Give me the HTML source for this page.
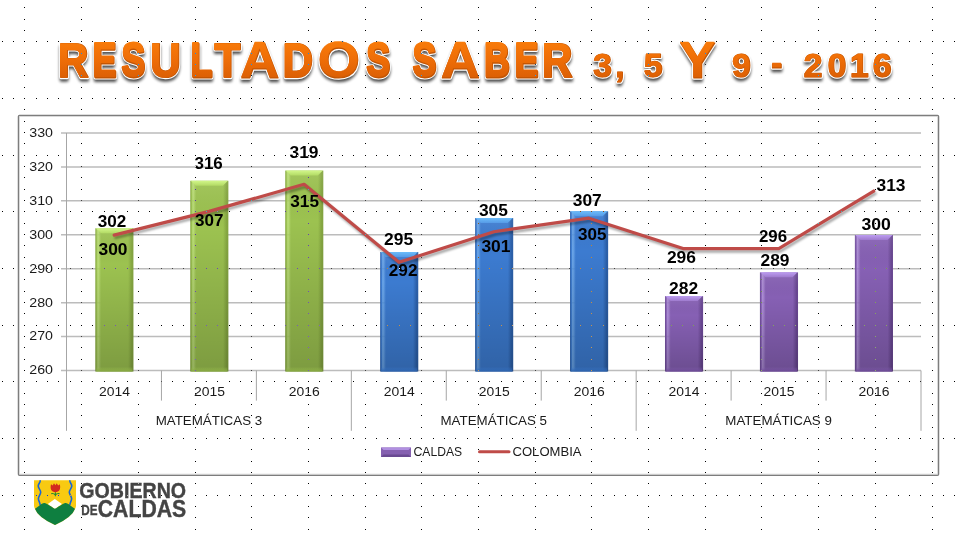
<!DOCTYPE html>
<html lang="es"><head><meta charset="utf-8"><title>Resultados Saber 3, 5 y 9 - 2016</title>
<style>
html,body{margin:0;padding:0;background:#fff}
body{width:963px;height:542px;overflow:hidden}
#slide{position:relative;width:963px;height:542px;background:#fff;isolation:isolate;overflow:hidden}
#slide svg{position:absolute;left:0;top:0;display:block}
#grid{mix-blend-mode:difference}
</style></head><body>
<div id="slide">
<svg width="963" height="542" viewBox="0 0 963 542" font-family='"Liberation Sans", sans-serif'>
<defs>
<linearGradient id="titleg" x1="0" y1="42" x2="0" y2="79" gradientUnits="userSpaceOnUse"><stop offset="0" stop-color="#f87b0a"/><stop offset="0.5" stop-color="#ee6d07"/><stop offset="1" stop-color="#db5f05"/></linearGradient>
<filter id="tsh" x="-5%" y="-20%" width="110%" height="150%"><feGaussianBlur in="SourceAlpha" stdDeviation="1.4"/><feOffset dx="0.4" dy="3"/><feComponentTransfer><feFuncA type="linear" slope="0.7"/></feComponentTransfer></filter>
<filter id="lsh" x="-5%" y="-20%" width="110%" height="140%"><feGaussianBlur stdDeviation="1.2"/></filter>

<linearGradient id="hg" x1="0" x2="1" y1="0" y2="0"><stop offset="0" stop-color="#84a540"/><stop offset="0.035" stop-color="#9cc250"/><stop offset="0.07" stop-color="#b2da64" stop-opacity="0.85"/><stop offset="0.15" stop-color="#9cc250"/><stop offset="0.86" stop-color="#9cc250"/><stop offset="0.96" stop-color="#84a540"/><stop offset="1" stop-color="#84a540"/></linearGradient>
<linearGradient id="tg" x1="0" x2="0" y1="0" y2="1"><stop offset="0" stop-color="#d2f68a"/><stop offset="1" stop-color="#b2da64"/></linearGradient>
<linearGradient id="bg" x1="0" x2="0" y1="0" y2="1"><stop offset="0" stop-color="#9cc250" stop-opacity="0"/><stop offset="1" stop-color="#84a540"/></linearGradient>
<linearGradient id="hb" x1="0" x2="1" y1="0" y2="0"><stop offset="0" stop-color="#2b5fa8"/><stop offset="0.035" stop-color="#3c7bd0"/><stop offset="0.07" stop-color="#569ae6" stop-opacity="0.85"/><stop offset="0.15" stop-color="#3c7bd0"/><stop offset="0.86" stop-color="#3c7bd0"/><stop offset="0.96" stop-color="#2b5fa8"/><stop offset="1" stop-color="#2b5fa8"/></linearGradient>
<linearGradient id="tb" x1="0" x2="0" y1="0" y2="1"><stop offset="0" stop-color="#6cbcfa"/><stop offset="1" stop-color="#569ae6"/></linearGradient>
<linearGradient id="bb" x1="0" x2="0" y1="0" y2="1"><stop offset="0" stop-color="#3c7bd0" stop-opacity="0"/><stop offset="1" stop-color="#2b5fa8"/></linearGradient>
<linearGradient id="hp" x1="0" x2="1" y1="0" y2="0"><stop offset="0" stop-color="#694792"/><stop offset="0.035" stop-color="#8660b4"/><stop offset="0.07" stop-color="#9e7acd" stop-opacity="0.85"/><stop offset="0.15" stop-color="#8660b4"/><stop offset="0.86" stop-color="#8660b4"/><stop offset="0.96" stop-color="#694792"/><stop offset="1" stop-color="#694792"/></linearGradient>
<linearGradient id="tp" x1="0" x2="0" y1="0" y2="1"><stop offset="0" stop-color="#bc9cf0"/><stop offset="1" stop-color="#9e7acd"/></linearGradient>
<linearGradient id="bp" x1="0" x2="0" y1="0" y2="1"><stop offset="0" stop-color="#8660b4" stop-opacity="0"/><stop offset="1" stop-color="#694792"/></linearGradient>
<linearGradient id="vshade" x1="0" x2="0" y1="0" y2="1"><stop offset="0" stop-color="#fff" stop-opacity="0.08"/><stop offset="0.25" stop-color="#000" stop-opacity="0"/><stop offset="1" stop-color="#000" stop-opacity="0.2"/></linearGradient>
</defs>
<rect width="963" height="542" fill="#fff"/>
<rect x="18.5" y="115.5" width="920" height="359.7" rx="1" fill="#fff" stroke="#7d7d7d" stroke-width="1.5"/><rect x="19.6" y="116.6" width="917.8" height="357.5" fill="none" stroke="#d9d9d9" stroke-width="0.8"/>
<path d="M61 370.50H921.0M61 336.57H921.0M61 302.64H921.0M61 268.71H921.0M61 234.79H921.0M61 200.86H921.0M61 166.93H921.0M61 133.00H921.0" stroke="#bcbcbc" stroke-width="1.5" fill="none"/>
<path d="M66.5 133.00V430.8M161.44 370.5V400.6M256.39 370.5V400.6M351.33 370.5V430.8M446.28 370.5V400.6M541.22 370.5V400.6M636.17 370.5V430.8M731.11 370.5V400.6M826.06 370.5V400.6M921.00 370.5V430.8" stroke="#a6a6a6" stroke-width="1" fill="none"/>
<rect x="95.32" y="228.25" width="38.1" height="143.25" fill="url(#hg)"/>
<rect x="95.32" y="228.25" width="38.1" height="143.25" fill="url(#vshade)"/>
<path d="M95.82 228.25h37.1l-5 5h-27.1z" fill="url(#tg)"/>
<rect x="96.32" y="367.00" width="36.1" height="4.5" fill="url(#bg)"/>
<rect x="190.27" y="180.75" width="38.1" height="190.75" fill="url(#hg)"/>
<rect x="190.27" y="180.75" width="38.1" height="190.75" fill="url(#vshade)"/>
<path d="M190.77 180.75h37.1l-5 5h-27.1z" fill="url(#tg)"/>
<rect x="191.27" y="367.00" width="36.1" height="4.5" fill="url(#bg)"/>
<rect x="285.21" y="170.57" width="38.1" height="200.93" fill="url(#hg)"/>
<rect x="285.21" y="170.57" width="38.1" height="200.93" fill="url(#vshade)"/>
<path d="M285.71 170.57h37.1l-5 5h-27.1z" fill="url(#tg)"/>
<rect x="286.21" y="367.00" width="36.1" height="4.5" fill="url(#bg)"/>
<rect x="380.16" y="252.00" width="38.1" height="119.50" fill="url(#hb)"/>
<rect x="380.16" y="252.00" width="38.1" height="119.50" fill="url(#vshade)"/>
<path d="M380.66 252.00h37.1l-5 5h-27.1z" fill="url(#tb)"/>
<rect x="381.16" y="367.00" width="36.1" height="4.5" fill="url(#bb)"/>
<rect x="475.10" y="218.07" width="38.1" height="153.43" fill="url(#hb)"/>
<rect x="475.10" y="218.07" width="38.1" height="153.43" fill="url(#vshade)"/>
<path d="M475.60 218.07h37.1l-5 5h-27.1z" fill="url(#tb)"/>
<rect x="476.10" y="367.00" width="36.1" height="4.5" fill="url(#bb)"/>
<rect x="570.04" y="211.29" width="38.1" height="160.21" fill="url(#hb)"/>
<rect x="570.04" y="211.29" width="38.1" height="160.21" fill="url(#vshade)"/>
<path d="M570.54 211.29h37.1l-5 5h-27.1z" fill="url(#tb)"/>
<rect x="571.04" y="367.00" width="36.1" height="4.5" fill="url(#bb)"/>
<rect x="664.99" y="296.11" width="38.1" height="75.39" fill="url(#hp)"/>
<rect x="664.99" y="296.11" width="38.1" height="75.39" fill="url(#vshade)"/>
<path d="M665.49 296.11h37.1l-5 5h-27.1z" fill="url(#tp)"/>
<rect x="665.99" y="367.00" width="36.1" height="4.5" fill="url(#bp)"/>
<rect x="759.93" y="272.36" width="38.1" height="99.14" fill="url(#hp)"/>
<rect x="759.93" y="272.36" width="38.1" height="99.14" fill="url(#vshade)"/>
<path d="M760.43 272.36h37.1l-5 5h-27.1z" fill="url(#tp)"/>
<rect x="760.93" y="367.00" width="36.1" height="4.5" fill="url(#bp)"/>
<rect x="854.88" y="235.04" width="38.1" height="136.46" fill="url(#hp)"/>
<rect x="854.88" y="235.04" width="38.1" height="136.46" fill="url(#vshade)"/>
<path d="M855.38 235.04h37.1l-5 5h-27.1z" fill="url(#tp)"/>
<rect x="855.88" y="367.00" width="36.1" height="4.5" fill="url(#bp)"/>
<polyline points="114.17,235.14 209.12,211.39 304.06,184.24 399.01,262.28 493.95,231.74 588.89,218.17 683.84,248.71 778.78,248.71 873.73,191.03" transform="translate(1.5,2.5)" fill="none" stroke="#000" stroke-opacity="0.35" stroke-width="3" stroke-linecap="round" stroke-linejoin="round" filter="url(#lsh)"/>
<polyline points="114.17,235.14 209.12,211.39 304.06,184.24 399.01,262.28 493.95,231.74 588.89,218.17 683.84,248.71 778.78,248.71 873.73,191.03" fill="none" stroke="#bf4b48" stroke-width="3.2" stroke-linecap="round" stroke-linejoin="round"/>
<text x="29.3" y="374.40" font-size="13.3" textLength="23.7" lengthAdjust="spacingAndGlyphs" fill="#1a1a1a">260</text>
<text x="29.3" y="340.47" font-size="13.3" textLength="23.7" lengthAdjust="spacingAndGlyphs" fill="#1a1a1a">270</text>
<text x="29.3" y="306.54" font-size="13.3" textLength="23.7" lengthAdjust="spacingAndGlyphs" fill="#1a1a1a">280</text>
<text x="29.3" y="272.61" font-size="13.3" textLength="23.7" lengthAdjust="spacingAndGlyphs" fill="#1a1a1a">290</text>
<text x="29.3" y="238.69" font-size="13.3" textLength="23.7" lengthAdjust="spacingAndGlyphs" fill="#1a1a1a">300</text>
<text x="29.3" y="204.76" font-size="13.3" textLength="23.7" lengthAdjust="spacingAndGlyphs" fill="#1a1a1a">310</text>
<text x="29.3" y="170.83" font-size="13.3" textLength="23.7" lengthAdjust="spacingAndGlyphs" fill="#1a1a1a">320</text>
<text x="29.3" y="136.90" font-size="13.3" textLength="23.7" lengthAdjust="spacingAndGlyphs" fill="#1a1a1a">330</text>
<text x="114.47" y="396" font-size="13.6" text-anchor="middle" textLength="31" lengthAdjust="spacingAndGlyphs" fill="#1a1a1a">2014</text>
<text x="209.42" y="396" font-size="13.6" text-anchor="middle" textLength="31" lengthAdjust="spacingAndGlyphs" fill="#1a1a1a">2015</text>
<text x="304.36" y="396" font-size="13.6" text-anchor="middle" textLength="31" lengthAdjust="spacingAndGlyphs" fill="#1a1a1a">2016</text>
<text x="399.31" y="396" font-size="13.6" text-anchor="middle" textLength="31" lengthAdjust="spacingAndGlyphs" fill="#1a1a1a">2014</text>
<text x="494.25" y="396" font-size="13.6" text-anchor="middle" textLength="31" lengthAdjust="spacingAndGlyphs" fill="#1a1a1a">2015</text>
<text x="589.19" y="396" font-size="13.6" text-anchor="middle" textLength="31" lengthAdjust="spacingAndGlyphs" fill="#1a1a1a">2016</text>
<text x="684.14" y="396" font-size="13.6" text-anchor="middle" textLength="31" lengthAdjust="spacingAndGlyphs" fill="#1a1a1a">2014</text>
<text x="779.08" y="396" font-size="13.6" text-anchor="middle" textLength="31" lengthAdjust="spacingAndGlyphs" fill="#1a1a1a">2015</text>
<text x="874.03" y="396" font-size="13.6" text-anchor="middle" textLength="31" lengthAdjust="spacingAndGlyphs" fill="#1a1a1a">2016</text>
<text x="208.92" y="425.3" font-size="13.4" text-anchor="middle" textLength="106.5" lengthAdjust="spacingAndGlyphs" fill="#1a1a1a">MATEMÁTICAS 3</text>
<text x="493.75" y="425.3" font-size="13.4" text-anchor="middle" textLength="106.5" lengthAdjust="spacingAndGlyphs" fill="#1a1a1a">MATEMÁTICAS 5</text>
<text x="778.58" y="425.3" font-size="13.4" text-anchor="middle" textLength="106.5" lengthAdjust="spacingAndGlyphs" fill="#1a1a1a">MATEMÁTICAS 9</text>
<text x="97.80" y="226.95" font-size="15.6" font-weight="bold" textLength="28.60" lengthAdjust="spacingAndGlyphs" fill="#000">302</text>
<text x="98.50" y="255.15" font-size="15.6" font-weight="bold" textLength="29.00" lengthAdjust="spacingAndGlyphs" fill="#000">300</text>
<text x="194.50" y="169.15" font-size="15.6" font-weight="bold" textLength="28.30" lengthAdjust="spacingAndGlyphs" fill="#000">316</text>
<text x="195.00" y="226.35" font-size="15.6" font-weight="bold" textLength="28.50" lengthAdjust="spacingAndGlyphs" fill="#000">307</text>
<text x="289.50" y="158.45" font-size="15.6" font-weight="bold" textLength="29.00" lengthAdjust="spacingAndGlyphs" fill="#000">319</text>
<text x="290.30" y="207.05" font-size="15.6" font-weight="bold" textLength="28.70" lengthAdjust="spacingAndGlyphs" fill="#000">315</text>
<text x="384.10" y="245.15" font-size="15.6" font-weight="bold" textLength="29.10" lengthAdjust="spacingAndGlyphs" fill="#000">295</text>
<text x="388.80" y="276.35" font-size="15.6" font-weight="bold" textLength="28.70" lengthAdjust="spacingAndGlyphs" fill="#000">292</text>
<text x="478.90" y="215.55" font-size="15.6" font-weight="bold" textLength="29.00" lengthAdjust="spacingAndGlyphs" fill="#000">305</text>
<text x="481.40" y="251.75" font-size="15.6" font-weight="bold" textLength="29.10" lengthAdjust="spacingAndGlyphs" fill="#000">301</text>
<text x="572.70" y="206.15" font-size="15.6" font-weight="bold" textLength="29.10" lengthAdjust="spacingAndGlyphs" fill="#000">307</text>
<text x="578.00" y="240.35" font-size="15.6" font-weight="bold" textLength="28.50" lengthAdjust="spacingAndGlyphs" fill="#000">305</text>
<text x="666.90" y="263.25" font-size="15.6" font-weight="bold" textLength="29.10" lengthAdjust="spacingAndGlyphs" fill="#000">296</text>
<text x="669.10" y="293.85" font-size="15.6" font-weight="bold" textLength="29.10" lengthAdjust="spacingAndGlyphs" fill="#000">282</text>
<text x="758.90" y="242.05" font-size="15.6" font-weight="bold" textLength="28.20" lengthAdjust="spacingAndGlyphs" fill="#000">296</text>
<text x="760.50" y="266.35" font-size="15.6" font-weight="bold" textLength="29.00" lengthAdjust="spacingAndGlyphs" fill="#000">289</text>
<text x="861.50" y="229.85" font-size="15.6" font-weight="bold" textLength="29.40" lengthAdjust="spacingAndGlyphs" fill="#000">300</text>
<text x="876.50" y="190.95" font-size="15.6" font-weight="bold" textLength="29.00" lengthAdjust="spacingAndGlyphs" fill="#000">313</text>
<rect x="381" y="447.5" width="30" height="9.5" fill="#8560b0"/><path d="M381 447.5h30l-2.5 2.5h-25z" fill="#b08fe0"/><path d="M381 457h30l-2.5 -2.5h-25z" fill="#6a4a92"/>
<text x="413.6" y="456.2" font-size="13.5" textLength="48.5" lengthAdjust="spacingAndGlyphs" fill="#1a1a1a">CALDAS</text>
<path d="M479.5 451.7H509" stroke="#bf4b48" stroke-width="3" stroke-linecap="round"/>
<text x="512.5" y="456.2" font-size="13.5" textLength="69" lengthAdjust="spacingAndGlyphs" fill="#1a1a1a">COLOMBIA</text>
<defs><g id="ttN"><text xml:space="preserve" transform="scale(0.74,1)" x="-1200.0 125.6 164.7 -1200.0 258.0 -1200.0 -1200.0 -1200.0 -1200.0 495.5 533.8 558.0 -1200.0 654.6 695.8 -1200.0 783.8 -1200.0 -1200.0 851.4 -1200.0 902.7 -1200.0 973.0 -1200.0 1020.3 -1200.0 1067.6 -1200.0 -1200.0 -1200.0 -1200.0" y="76.90" font-size="47.83" font-weight="bold">RESULTADOS SABER 3, 5 Y 9 - 2016</text></g><g id="ttM"><text xml:space="preserve" transform="scale(0.86,1)" x="67.7 -1200.0 -1200.0 174.9 -1200.0 249.6 -1200.0 328.8 -1200.0 -1200.0 459.3 -1200.0 -1200.0 -1200.0 -1200.0 630.5 674.4 -1200.0 -1200.0 732.6 -1200.0 776.7 -1200.0 837.2 -1200.0 877.9 -1200.0 918.6 -1200.0 -1200.0 -1200.0 -1200.0" y="77.30" font-size="48.99" font-weight="bold">RESULTADOS SABER 3, 5 Y 9 - 2016</text></g><g id="ttW"><text xml:space="preserve" transform="scale(1.07,1)" x="-1200.0 -1200.0 -1200.0 -1200.0 -1200.0 -1200.0 224.7 -1200.0 297.2 -1200.0 369.2 -1200.0 412.2 -1200.0 -1200.0 -1200.0 542.1 -1200.0 -1200.0 588.8 -1200.0 624.3 635.2 672.9 -1200.0 705.6 -1200.0 738.3 -1200.0 -1200.0 -1200.0 -1200.0" y="77.80" font-size="50.43" font-weight="bold">RESULTADOS SABER 3, 5 Y 9 - 2016</text></g><g id="ttD"><text xml:space="preserve" transform="scale(1.04,1)" x="-1200.0 -1200.0 -1200.0 -1200.0 -1200.0 -1200.0 -1200.0 -1200.0 -1200.0 -1200.0 379.8 -1200.0 -1200.0 -1200.0 -1200.0 -1200.0 557.7 570.5 591.6 605.8 619.2 642.3 -1200.0 692.3 704.0 726.0 741.6 759.6 772.9 795.9 817.3 839.4" y="77.40" dy="0 0 0 0 0 0 0 0 0 0 0 0 0 0 0 0 0 0 0 0 0 0 0 0 0 0 -2.6 2.6 0 0 0 0" font-size="32.45" font-weight="bold">RESULTADOS SABER 3, 5 Y 9 - 2016</text></g></defs>
<use href="#ttN" filter="url(#tsh)" fill="#000" stroke="#000" stroke-width="4.20" stroke-linejoin="round"/>
<use href="#ttM" filter="url(#tsh)" fill="#000" stroke="#000" stroke-width="3.40" stroke-linejoin="round"/>
<use href="#ttW" filter="url(#tsh)" fill="#000" stroke="#000" stroke-width="2.40" stroke-linejoin="round"/>
<use href="#ttD" filter="url(#tsh)" fill="#000" stroke="#000" stroke-width="2.40" stroke-linejoin="round"/>
<use href="#ttN" fill="#fff" stroke="#fff" stroke-width="5.20" stroke-linejoin="round"/>
<use href="#ttM" fill="#fff" stroke="#fff" stroke-width="4.40" stroke-linejoin="round"/>
<use href="#ttW" fill="#fff" stroke="#fff" stroke-width="3.40" stroke-linejoin="round"/>
<use href="#ttD" fill="#fff" stroke="#fff" stroke-width="3.40" stroke-linejoin="round"/>
<use href="#ttN" fill="#c25504" stroke="#c25504" stroke-width="3.00" stroke-linejoin="round"/>
<use href="#ttN" fill="url(#titleg)" stroke="url(#titleg)" stroke-width="2.10" stroke-linejoin="round" transform="translate(-0.35,-0.45)"/>
<use href="#ttM" fill="#c25504" stroke="#c25504" stroke-width="2.20" stroke-linejoin="round"/>
<use href="#ttM" fill="url(#titleg)" stroke="url(#titleg)" stroke-width="1.30" stroke-linejoin="round" transform="translate(-0.35,-0.45)"/>
<use href="#ttW" fill="#c25504" stroke="#c25504" stroke-width="1.20" stroke-linejoin="round"/>
<use href="#ttW" fill="url(#titleg)" stroke="url(#titleg)" stroke-width="0.30" stroke-linejoin="round" transform="translate(-0.35,-0.45)"/>
<use href="#ttD" fill="#c25504" stroke="#c25504" stroke-width="1.20" stroke-linejoin="round"/>
<use href="#ttD" fill="url(#titleg)" stroke="url(#titleg)" stroke-width="0.30" stroke-linejoin="round" transform="translate(-0.35,-0.45)"/>
<clipPath id="shc"><path d="M34 480.2H76V506Q74 516.5 55 525Q36 516.5 34 506Z"/></clipPath>
<g clip-path="url(#shc)">
<rect x="33" y="480" width="44" height="46" fill="#f8ca12"/>
<path d="M54.8 498.9L62 504.1 54.9 509 47.800 504.1Z" fill="#fff"/>
<path d="M39.900 479.500c1.500 2.200-1.700 4.200-1.700 6.500s2.600 4 2.500 6.300-2.400 4-2.300 6.400 1.600 3.500 1.800 6.500" fill="none" stroke="#1766d8" stroke-width="1.600"/>
<path d="M70.100 479.500c-1.500 2.200 1.700 4.200 1.700 6.500s-2.600 4-2.500 6.300 2.400 4 2.300 6.400-1.600 3.500-1.800 6.500" fill="none" stroke="#1766d8" stroke-width="1.600"/>
<path d="M32 510.500C37 508.500 41 502.600 44.500 502.900 46.500 503 52 507.200 54.900 508.800 58 507.200 63.500 503 65.300 502.900 68.800 502.600 73 508.500 78 510.500V527H32Z" fill="#0e7f40"/>
<path d="M51 484.200l1.700 1.300 1.300-2.300 1.400 2 1.400-2 1.300 2.300 1.700-1.300c.6 2.500 .5 4.400-.3 5.900-.8 1.400-2.300 2.100-4.100 2.100s-3.300-.7-4.100-2.100c-.8-1.500-.9-3.400-.3-5.900z" fill="#d3291f"/>
<path d="M55.400 492.200v4M51.300 493.600c1.800-.3 3.300 .3 4.100 1.500 .8-1.200 2.300-1.800 4.100-1.500" stroke="#2a8a2e" stroke-width="1.100" fill="none"/>
</g>
<text x="79.300" y="497.700" font-size="21.8" font-weight="bold" textLength="106.800" lengthAdjust="spacingAndGlyphs" fill="#444" stroke="#444" stroke-width="0.4">GOBIERNO</text>
<text x="81.300" y="514.900" font-size="14.9" font-weight="bold" textLength="16.300" lengthAdjust="spacingAndGlyphs" fill="#444" stroke="#444" stroke-width="0.3">DE</text>
<text x="97.800" y="516.700" font-size="23.2" font-weight="bold" textLength="88.400" lengthAdjust="spacingAndGlyphs" fill="#444" stroke="#444" stroke-width="0.4">CALDAS</text>
</svg>
<svg id="grid" width="963" height="542" viewBox="0 0 963 542" shape-rendering="crispEdges"><path d="M24 7h1M81 7h1M138 7h1M195 7h1M251 7h1M308 7h1M365 7h1M421 7h1M478 7h1M535 7h1M591 7h1M648 7h1M705 7h1M761 7h1M818 7h1M875 7h1M932 7h1M24 19h1M81 19h1M138 19h1M195 19h1M251 19h1M308 19h1M365 19h1M421 19h1M478 19h1M535 19h1M591 19h1M648 19h1M705 19h1M761 19h1M818 19h1M875 19h1M932 19h1M24 30h1M81 30h1M138 30h1M195 30h1M251 30h1M308 30h1M365 30h1M421 30h1M478 30h1M535 30h1M591 30h1M648 30h1M705 30h1M761 30h1M818 30h1M875 30h1M932 30h1M2 41h1M13 41h1M24 41h1M36 41h1M47 41h1M58 41h1M70 41h1M81 41h1M92 41h1M104 41h1M115 41h1M127 41h1M138 41h1M149 41h1M161 41h1M172 41h1M183 41h1M195 41h1M206 41h1M217 41h1M229 41h1M240 41h1M251 41h1M263 41h1M274 41h1M285 41h1M297 41h1M308 41h1M319 41h1M331 41h1M342 41h1M353 41h1M365 41h1M376 41h1M387 41h1M399 41h1M410 41h1M421 41h1M433 41h1M444 41h1M455 41h1M467 41h1M478 41h1M489 41h1M501 41h1M512 41h1M523 41h1M535 41h1M546 41h1M557 41h1M569 41h1M580 41h1M591 41h1M603 41h1M614 41h1M625 41h1M637 41h1M648 41h1M659 41h1M671 41h1M682 41h1M693 41h1M705 41h1M716 41h1M727 41h1M739 41h1M750 41h1M761 41h1M773 41h1M784 41h1M795 41h1M807 41h1M818 41h1M829 41h1M841 41h1M852 41h1M864 41h1M875 41h1M886 41h1M898 41h1M909 41h1M920 41h1M932 41h1M943 41h1M954 41h1M24 53h1M81 53h1M138 53h1M195 53h1M251 53h1M308 53h1M365 53h1M421 53h1M478 53h1M535 53h1M591 53h1M648 53h1M705 53h1M761 53h1M818 53h1M875 53h1M932 53h1M24 64h1M81 64h1M138 64h1M195 64h1M251 64h1M308 64h1M365 64h1M421 64h1M478 64h1M535 64h1M591 64h1M648 64h1M705 64h1M761 64h1M818 64h1M875 64h1M932 64h1M24 75h1M81 75h1M138 75h1M195 75h1M251 75h1M308 75h1M365 75h1M421 75h1M478 75h1M535 75h1M591 75h1M648 75h1M705 75h1M761 75h1M818 75h1M875 75h1M932 75h1M24 87h1M81 87h1M138 87h1M195 87h1M251 87h1M308 87h1M365 87h1M421 87h1M478 87h1M535 87h1M591 87h1M648 87h1M705 87h1M761 87h1M818 87h1M875 87h1M932 87h1M2 98h1M13 98h1M24 98h1M36 98h1M47 98h1M58 98h1M70 98h1M81 98h1M92 98h1M104 98h1M115 98h1M127 98h1M138 98h1M149 98h1M161 98h1M172 98h1M183 98h1M195 98h1M206 98h1M217 98h1M229 98h1M240 98h1M251 98h1M263 98h1M274 98h1M285 98h1M297 98h1M308 98h1M319 98h1M331 98h1M342 98h1M353 98h1M365 98h1M376 98h1M387 98h1M399 98h1M410 98h1M421 98h1M433 98h1M444 98h1M455 98h1M467 98h1M478 98h1M489 98h1M501 98h1M512 98h1M523 98h1M535 98h1M546 98h1M557 98h1M569 98h1M580 98h1M591 98h1M603 98h1M614 98h1M625 98h1M637 98h1M648 98h1M659 98h1M671 98h1M682 98h1M693 98h1M705 98h1M716 98h1M727 98h1M739 98h1M750 98h1M761 98h1M773 98h1M784 98h1M795 98h1M807 98h1M818 98h1M829 98h1M841 98h1M852 98h1M864 98h1M875 98h1M886 98h1M898 98h1M909 98h1M920 98h1M932 98h1M943 98h1M954 98h1M24 109h1M81 109h1M138 109h1M195 109h1M251 109h1M308 109h1M365 109h1M421 109h1M478 109h1M535 109h1M591 109h1M648 109h1M705 109h1M761 109h1M818 109h1M875 109h1M932 109h1M24 121h1M81 121h1M138 121h1M195 121h1M251 121h1M308 121h1M365 121h1M421 121h1M478 121h1M535 121h1M591 121h1M648 121h1M705 121h1M761 121h1M818 121h1M875 121h1M932 121h1M24 132h1M81 132h1M138 132h1M195 132h1M251 132h1M308 132h1M365 132h1M421 132h1M478 132h1M535 132h1M591 132h1M648 132h1M705 132h1M761 132h1M818 132h1M875 132h1M932 132h1M24 143h1M81 143h1M138 143h1M195 143h1M251 143h1M308 143h1M365 143h1M421 143h1M478 143h1M535 143h1M591 143h1M648 143h1M705 143h1M761 143h1M818 143h1M875 143h1M932 143h1M2 155h1M13 155h1M24 155h1M36 155h1M47 155h1M58 155h1M70 155h1M81 155h1M92 155h1M104 155h1M115 155h1M127 155h1M138 155h1M149 155h1M161 155h1M172 155h1M183 155h1M195 155h1M206 155h1M217 155h1M229 155h1M240 155h1M251 155h1M263 155h1M274 155h1M285 155h1M297 155h1M308 155h1M319 155h1M331 155h1M342 155h1M353 155h1M365 155h1M376 155h1M387 155h1M399 155h1M410 155h1M421 155h1M433 155h1M444 155h1M455 155h1M467 155h1M478 155h1M489 155h1M501 155h1M512 155h1M523 155h1M535 155h1M546 155h1M557 155h1M569 155h1M580 155h1M591 155h1M603 155h1M614 155h1M625 155h1M637 155h1M648 155h1M659 155h1M671 155h1M682 155h1M693 155h1M705 155h1M716 155h1M727 155h1M739 155h1M750 155h1M761 155h1M773 155h1M784 155h1M795 155h1M807 155h1M818 155h1M829 155h1M841 155h1M852 155h1M864 155h1M875 155h1M886 155h1M898 155h1M909 155h1M920 155h1M932 155h1M943 155h1M954 155h1M24 166h1M81 166h1M138 166h1M195 166h1M251 166h1M308 166h1M365 166h1M421 166h1M478 166h1M535 166h1M591 166h1M648 166h1M705 166h1M761 166h1M818 166h1M875 166h1M932 166h1M24 177h1M81 177h1M138 177h1M195 177h1M251 177h1M308 177h1M365 177h1M421 177h1M478 177h1M535 177h1M591 177h1M648 177h1M705 177h1M761 177h1M818 177h1M875 177h1M932 177h1M24 189h1M81 189h1M138 189h1M195 189h1M251 189h1M308 189h1M365 189h1M421 189h1M478 189h1M535 189h1M591 189h1M648 189h1M705 189h1M761 189h1M818 189h1M875 189h1M932 189h1M24 200h1M81 200h1M138 200h1M195 200h1M251 200h1M308 200h1M365 200h1M421 200h1M478 200h1M535 200h1M591 200h1M648 200h1M705 200h1M761 200h1M818 200h1M875 200h1M932 200h1M2 211h1M13 211h1M24 211h1M36 211h1M47 211h1M58 211h1M70 211h1M81 211h1M92 211h1M104 211h1M115 211h1M127 211h1M138 211h1M149 211h1M161 211h1M172 211h1M183 211h1M195 211h1M206 211h1M217 211h1M229 211h1M240 211h1M251 211h1M263 211h1M274 211h1M285 211h1M297 211h1M308 211h1M319 211h1M331 211h1M342 211h1M353 211h1M365 211h1M376 211h1M387 211h1M399 211h1M410 211h1M421 211h1M433 211h1M444 211h1M455 211h1M467 211h1M478 211h1M489 211h1M501 211h1M512 211h1M523 211h1M535 211h1M546 211h1M557 211h1M569 211h1M580 211h1M591 211h1M603 211h1M614 211h1M625 211h1M637 211h1M648 211h1M659 211h1M671 211h1M682 211h1M693 211h1M705 211h1M716 211h1M727 211h1M739 211h1M750 211h1M761 211h1M773 211h1M784 211h1M795 211h1M807 211h1M818 211h1M829 211h1M841 211h1M852 211h1M864 211h1M875 211h1M886 211h1M898 211h1M909 211h1M920 211h1M932 211h1M943 211h1M954 211h1M24 223h1M81 223h1M138 223h1M195 223h1M251 223h1M308 223h1M365 223h1M421 223h1M478 223h1M535 223h1M591 223h1M648 223h1M705 223h1M761 223h1M818 223h1M875 223h1M932 223h1M24 234h1M81 234h1M138 234h1M195 234h1M251 234h1M308 234h1M365 234h1M421 234h1M478 234h1M535 234h1M591 234h1M648 234h1M705 234h1M761 234h1M818 234h1M875 234h1M932 234h1M24 245h1M81 245h1M138 245h1M195 245h1M251 245h1M308 245h1M365 245h1M421 245h1M478 245h1M535 245h1M591 245h1M648 245h1M705 245h1M761 245h1M818 245h1M875 245h1M932 245h1M24 257h1M81 257h1M138 257h1M195 257h1M251 257h1M308 257h1M365 257h1M421 257h1M478 257h1M535 257h1M591 257h1M648 257h1M705 257h1M761 257h1M818 257h1M875 257h1M932 257h1M2 268h1M13 268h1M24 268h1M36 268h1M47 268h1M58 268h1M70 268h1M81 268h1M92 268h1M104 268h1M115 268h1M127 268h1M138 268h1M149 268h1M161 268h1M172 268h1M183 268h1M195 268h1M206 268h1M217 268h1M229 268h1M240 268h1M251 268h1M263 268h1M274 268h1M285 268h1M297 268h1M308 268h1M319 268h1M331 268h1M342 268h1M353 268h1M365 268h1M376 268h1M387 268h1M399 268h1M410 268h1M421 268h1M433 268h1M444 268h1M455 268h1M467 268h1M478 268h1M489 268h1M501 268h1M512 268h1M523 268h1M535 268h1M546 268h1M557 268h1M569 268h1M580 268h1M591 268h1M603 268h1M614 268h1M625 268h1M637 268h1M648 268h1M659 268h1M671 268h1M682 268h1M693 268h1M705 268h1M716 268h1M727 268h1M739 268h1M750 268h1M761 268h1M773 268h1M784 268h1M795 268h1M807 268h1M818 268h1M829 268h1M841 268h1M852 268h1M864 268h1M875 268h1M886 268h1M898 268h1M909 268h1M920 268h1M932 268h1M943 268h1M954 268h1M24 279h1M81 279h1M138 279h1M195 279h1M251 279h1M308 279h1M365 279h1M421 279h1M478 279h1M535 279h1M591 279h1M648 279h1M705 279h1M761 279h1M818 279h1M875 279h1M932 279h1M24 291h1M81 291h1M138 291h1M195 291h1M251 291h1M308 291h1M365 291h1M421 291h1M478 291h1M535 291h1M591 291h1M648 291h1M705 291h1M761 291h1M818 291h1M875 291h1M932 291h1M24 302h1M81 302h1M138 302h1M195 302h1M251 302h1M308 302h1M365 302h1M421 302h1M478 302h1M535 302h1M591 302h1M648 302h1M705 302h1M761 302h1M818 302h1M875 302h1M932 302h1M24 313h1M81 313h1M138 313h1M195 313h1M251 313h1M308 313h1M365 313h1M421 313h1M478 313h1M535 313h1M591 313h1M648 313h1M705 313h1M761 313h1M818 313h1M875 313h1M932 313h1M2 325h1M13 325h1M24 325h1M36 325h1M47 325h1M58 325h1M70 325h1M81 325h1M92 325h1M104 325h1M115 325h1M127 325h1M138 325h1M149 325h1M161 325h1M172 325h1M183 325h1M195 325h1M206 325h1M217 325h1M229 325h1M240 325h1M251 325h1M263 325h1M274 325h1M285 325h1M297 325h1M308 325h1M319 325h1M331 325h1M342 325h1M353 325h1M365 325h1M376 325h1M387 325h1M399 325h1M410 325h1M421 325h1M433 325h1M444 325h1M455 325h1M467 325h1M478 325h1M489 325h1M501 325h1M512 325h1M523 325h1M535 325h1M546 325h1M557 325h1M569 325h1M580 325h1M591 325h1M603 325h1M614 325h1M625 325h1M637 325h1M648 325h1M659 325h1M671 325h1M682 325h1M693 325h1M705 325h1M716 325h1M727 325h1M739 325h1M750 325h1M761 325h1M773 325h1M784 325h1M795 325h1M807 325h1M818 325h1M829 325h1M841 325h1M852 325h1M864 325h1M875 325h1M886 325h1M898 325h1M909 325h1M920 325h1M932 325h1M943 325h1M954 325h1M24 336h1M81 336h1M138 336h1M195 336h1M251 336h1M308 336h1M365 336h1M421 336h1M478 336h1M535 336h1M591 336h1M648 336h1M705 336h1M761 336h1M818 336h1M875 336h1M932 336h1M24 347h1M81 347h1M138 347h1M195 347h1M251 347h1M308 347h1M365 347h1M421 347h1M478 347h1M535 347h1M591 347h1M648 347h1M705 347h1M761 347h1M818 347h1M875 347h1M932 347h1M24 359h1M81 359h1M138 359h1M195 359h1M251 359h1M308 359h1M365 359h1M421 359h1M478 359h1M535 359h1M591 359h1M648 359h1M705 359h1M761 359h1M818 359h1M875 359h1M932 359h1M24 370h1M81 370h1M138 370h1M195 370h1M251 370h1M308 370h1M365 370h1M421 370h1M478 370h1M535 370h1M591 370h1M648 370h1M705 370h1M761 370h1M818 370h1M875 370h1M932 370h1M2 381h1M13 381h1M24 381h1M36 381h1M47 381h1M58 381h1M70 381h1M81 381h1M92 381h1M104 381h1M115 381h1M127 381h1M138 381h1M149 381h1M161 381h1M172 381h1M183 381h1M195 381h1M206 381h1M217 381h1M229 381h1M240 381h1M251 381h1M263 381h1M274 381h1M285 381h1M297 381h1M308 381h1M319 381h1M331 381h1M342 381h1M353 381h1M365 381h1M376 381h1M387 381h1M399 381h1M410 381h1M421 381h1M433 381h1M444 381h1M455 381h1M467 381h1M478 381h1M489 381h1M501 381h1M512 381h1M523 381h1M535 381h1M546 381h1M557 381h1M569 381h1M580 381h1M591 381h1M603 381h1M614 381h1M625 381h1M637 381h1M648 381h1M659 381h1M671 381h1M682 381h1M693 381h1M705 381h1M716 381h1M727 381h1M739 381h1M750 381h1M761 381h1M773 381h1M784 381h1M795 381h1M807 381h1M818 381h1M829 381h1M841 381h1M852 381h1M864 381h1M875 381h1M886 381h1M898 381h1M909 381h1M920 381h1M932 381h1M943 381h1M954 381h1M24 393h1M81 393h1M138 393h1M195 393h1M251 393h1M308 393h1M365 393h1M421 393h1M478 393h1M535 393h1M591 393h1M648 393h1M705 393h1M761 393h1M818 393h1M875 393h1M932 393h1M24 404h1M81 404h1M138 404h1M195 404h1M251 404h1M308 404h1M365 404h1M421 404h1M478 404h1M535 404h1M591 404h1M648 404h1M705 404h1M761 404h1M818 404h1M875 404h1M932 404h1M24 415h1M81 415h1M138 415h1M195 415h1M251 415h1M308 415h1M365 415h1M421 415h1M478 415h1M535 415h1M591 415h1M648 415h1M705 415h1M761 415h1M818 415h1M875 415h1M932 415h1M24 427h1M81 427h1M138 427h1M195 427h1M251 427h1M308 427h1M365 427h1M421 427h1M478 427h1M535 427h1M591 427h1M648 427h1M705 427h1M761 427h1M818 427h1M875 427h1M932 427h1M2 438h1M13 438h1M24 438h1M36 438h1M47 438h1M58 438h1M70 438h1M81 438h1M92 438h1M104 438h1M115 438h1M127 438h1M138 438h1M149 438h1M161 438h1M172 438h1M183 438h1M195 438h1M206 438h1M217 438h1M229 438h1M240 438h1M251 438h1M263 438h1M274 438h1M285 438h1M297 438h1M308 438h1M319 438h1M331 438h1M342 438h1M353 438h1M365 438h1M376 438h1M387 438h1M399 438h1M410 438h1M421 438h1M433 438h1M444 438h1M455 438h1M467 438h1M478 438h1M489 438h1M501 438h1M512 438h1M523 438h1M535 438h1M546 438h1M557 438h1M569 438h1M580 438h1M591 438h1M603 438h1M614 438h1M625 438h1M637 438h1M648 438h1M659 438h1M671 438h1M682 438h1M693 438h1M705 438h1M716 438h1M727 438h1M739 438h1M750 438h1M761 438h1M773 438h1M784 438h1M795 438h1M807 438h1M818 438h1M829 438h1M841 438h1M852 438h1M864 438h1M875 438h1M886 438h1M898 438h1M909 438h1M920 438h1M932 438h1M943 438h1M954 438h1M24 449h1M81 449h1M138 449h1M195 449h1M251 449h1M308 449h1M365 449h1M421 449h1M478 449h1M535 449h1M591 449h1M648 449h1M705 449h1M761 449h1M818 449h1M875 449h1M932 449h1M24 461h1M81 461h1M138 461h1M195 461h1M251 461h1M308 461h1M365 461h1M421 461h1M478 461h1M535 461h1M591 461h1M648 461h1M705 461h1M761 461h1M818 461h1M875 461h1M932 461h1M24 472h1M81 472h1M138 472h1M195 472h1M251 472h1M308 472h1M365 472h1M421 472h1M478 472h1M535 472h1M591 472h1M648 472h1M705 472h1M761 472h1M818 472h1M875 472h1M932 472h1M24 483h1M81 483h1M138 483h1M195 483h1M251 483h1M308 483h1M365 483h1M421 483h1M478 483h1M535 483h1M591 483h1M648 483h1M705 483h1M761 483h1M818 483h1M875 483h1M932 483h1M2 495h1M13 495h1M24 495h1M36 495h1M47 495h1M58 495h1M70 495h1M81 495h1M92 495h1M104 495h1M115 495h1M127 495h1M138 495h1M149 495h1M161 495h1M172 495h1M183 495h1M195 495h1M206 495h1M217 495h1M229 495h1M240 495h1M251 495h1M263 495h1M274 495h1M285 495h1M297 495h1M308 495h1M319 495h1M331 495h1M342 495h1M353 495h1M365 495h1M376 495h1M387 495h1M399 495h1M410 495h1M421 495h1M433 495h1M444 495h1M455 495h1M467 495h1M478 495h1M489 495h1M501 495h1M512 495h1M523 495h1M535 495h1M546 495h1M557 495h1M569 495h1M580 495h1M591 495h1M603 495h1M614 495h1M625 495h1M637 495h1M648 495h1M659 495h1M671 495h1M682 495h1M693 495h1M705 495h1M716 495h1M727 495h1M739 495h1M750 495h1M761 495h1M773 495h1M784 495h1M795 495h1M807 495h1M818 495h1M829 495h1M841 495h1M852 495h1M864 495h1M875 495h1M886 495h1M898 495h1M909 495h1M920 495h1M932 495h1M943 495h1M954 495h1M24 506h1M81 506h1M138 506h1M195 506h1M251 506h1M308 506h1M365 506h1M421 506h1M478 506h1M535 506h1M591 506h1M648 506h1M705 506h1M761 506h1M818 506h1M875 506h1M932 506h1M24 517h1M81 517h1M138 517h1M195 517h1M251 517h1M308 517h1M365 517h1M421 517h1M478 517h1M535 517h1M591 517h1M648 517h1M705 517h1M761 517h1M818 517h1M875 517h1M932 517h1M24 529h1M81 529h1M138 529h1M195 529h1M251 529h1M308 529h1M365 529h1M421 529h1M478 529h1M535 529h1M591 529h1M648 529h1M705 529h1M761 529h1M818 529h1M875 529h1M932 529h1" transform="translate(0,0.5)" stroke="#fff" stroke-width="1" fill="none"/></svg>
</div>
</body></html>
